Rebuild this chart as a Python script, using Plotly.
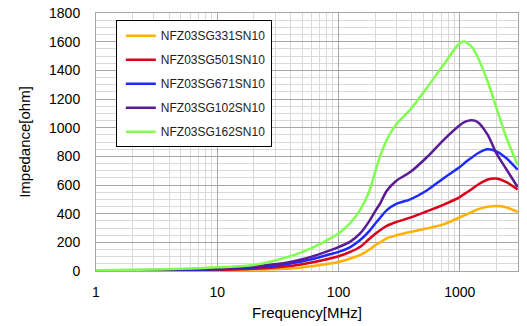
import plotly.graph_objects as go

freq_mhz = [1, 2, 5, 10, 20, 40, 60, 85, 100, 125, 150, 180, 205, 220, 250, 300,
            390, 530, 730, 1000, 1100, 1250, 1400, 1700, 2000, 2400, 3000]

series_names = ["NFZ03SG331SN10", "NFZ03SG501SN10", "NFZ03SG671SN10",
                "NFZ03SG102SN10", "NFZ03SG162SN10"]

z_331 = [0.5, 1, 2, 5, 10, 17, 33, 52, 63, 87, 110, 150, 185, 200, 228, 249,
         272, 296, 325, 375, 390, 410, 430, 448, 453, 445, 412]
z_501 = [1, 2, 4, 8, 15, 35, 60, 87, 103, 133, 167, 225, 265, 285, 315, 342,
         372, 415, 462, 516, 540, 570, 600, 638, 645, 622, 568]
z_671 = [2, 3, 6, 12, 24, 52, 82, 117, 133, 167, 214, 280, 340, 370, 425, 468,
         500, 560, 645, 725, 755, 790, 820, 849, 835, 790, 707]
z_102 = [3, 5, 10, 18, 32, 63, 100, 144, 167, 205, 260, 350, 430, 470, 560, 630,
         690, 790, 912, 1017, 1040, 1051, 1040, 950, 822, 715, 586]
z_162 = [5, 8, 15, 26, 42, 103, 160, 226, 261, 335, 423, 560, 720, 800, 915, 1025,
         1125, 1273, 1435, 1590, 1600, 1565, 1495, 1320, 1140, 940, 740]

colors = ["#FFB000", "#D9001B", "#1E2BFF", "#5A1A96", "#80FF50"]

FONT = "Liberation Sans, Arial, sans-serif"

fig = go.Figure()
for i, (name, vals) in enumerate(zip(series_names, [z_331, z_501, z_671, z_102, z_162])):
    fig.add_trace(go.Scatter(
        x=freq_mhz, y=vals, name=name, mode="lines",
        line=dict(color=colors[i], width=2.5, shape="spline", smoothing=0.8),
        legendgroup=f"g{i}",
    ))

fig.update_layout(
    width=527, height=326,
    margin=dict(l=96, r=9, t=13, b=55),
    paper_bgcolor="white", plot_bgcolor="white",
    font=dict(family=FONT, size=14, color="black"),
    showlegend=True,
    legend=dict(
        x=0.047, y=0.972, xanchor="left", yanchor="top",
        bgcolor="white", bordercolor="black", borderwidth=1,
        font=dict(family=FONT, size=12, color="#222222"),
        tracegroupgap=5,
        itemwidth=30,
        indentation=4,
    ),
    xaxis=dict(
        type="log", range=[0, 3.48], automargin=False,
        tickvals=[1, 10, 100, 1000], ticktext=["1", "10", "100", "1000"],
        showgrid=True, gridcolor="#A6A6A6", gridwidth=1,
        minor=dict(showgrid=True, gridcolor="#D9D9D9", gridwidth=1,
                   tickvals=[a * b for b in [1, 10, 100, 1000] for a in range(2, 10)]),
        showline=True, linecolor="#A6A6A6", linewidth=1, mirror=True,
        ticks="", ticklabelstandoff=8,
        zeroline=False,
        title=dict(text="Frequency[MHz]", font=dict(size=15), standoff=8),
    ),
    yaxis=dict(
        range=[0, 1800], dtick=200, automargin=False,
        showgrid=True, gridcolor="#A6A6A6", gridwidth=1,
        minor=dict(showgrid=True, gridcolor="#D9D9D9", gridwidth=1, dtick=50),
        showline=True, linecolor="#A6A6A6", linewidth=1, mirror=True,
        ticks="", ticklabelstandoff=12,
        zeroline=False,
        title=dict(text="Impedance[ohm]", font=dict(size=15), standoff=14),
    ),
)

fig.write_html("out.html")
